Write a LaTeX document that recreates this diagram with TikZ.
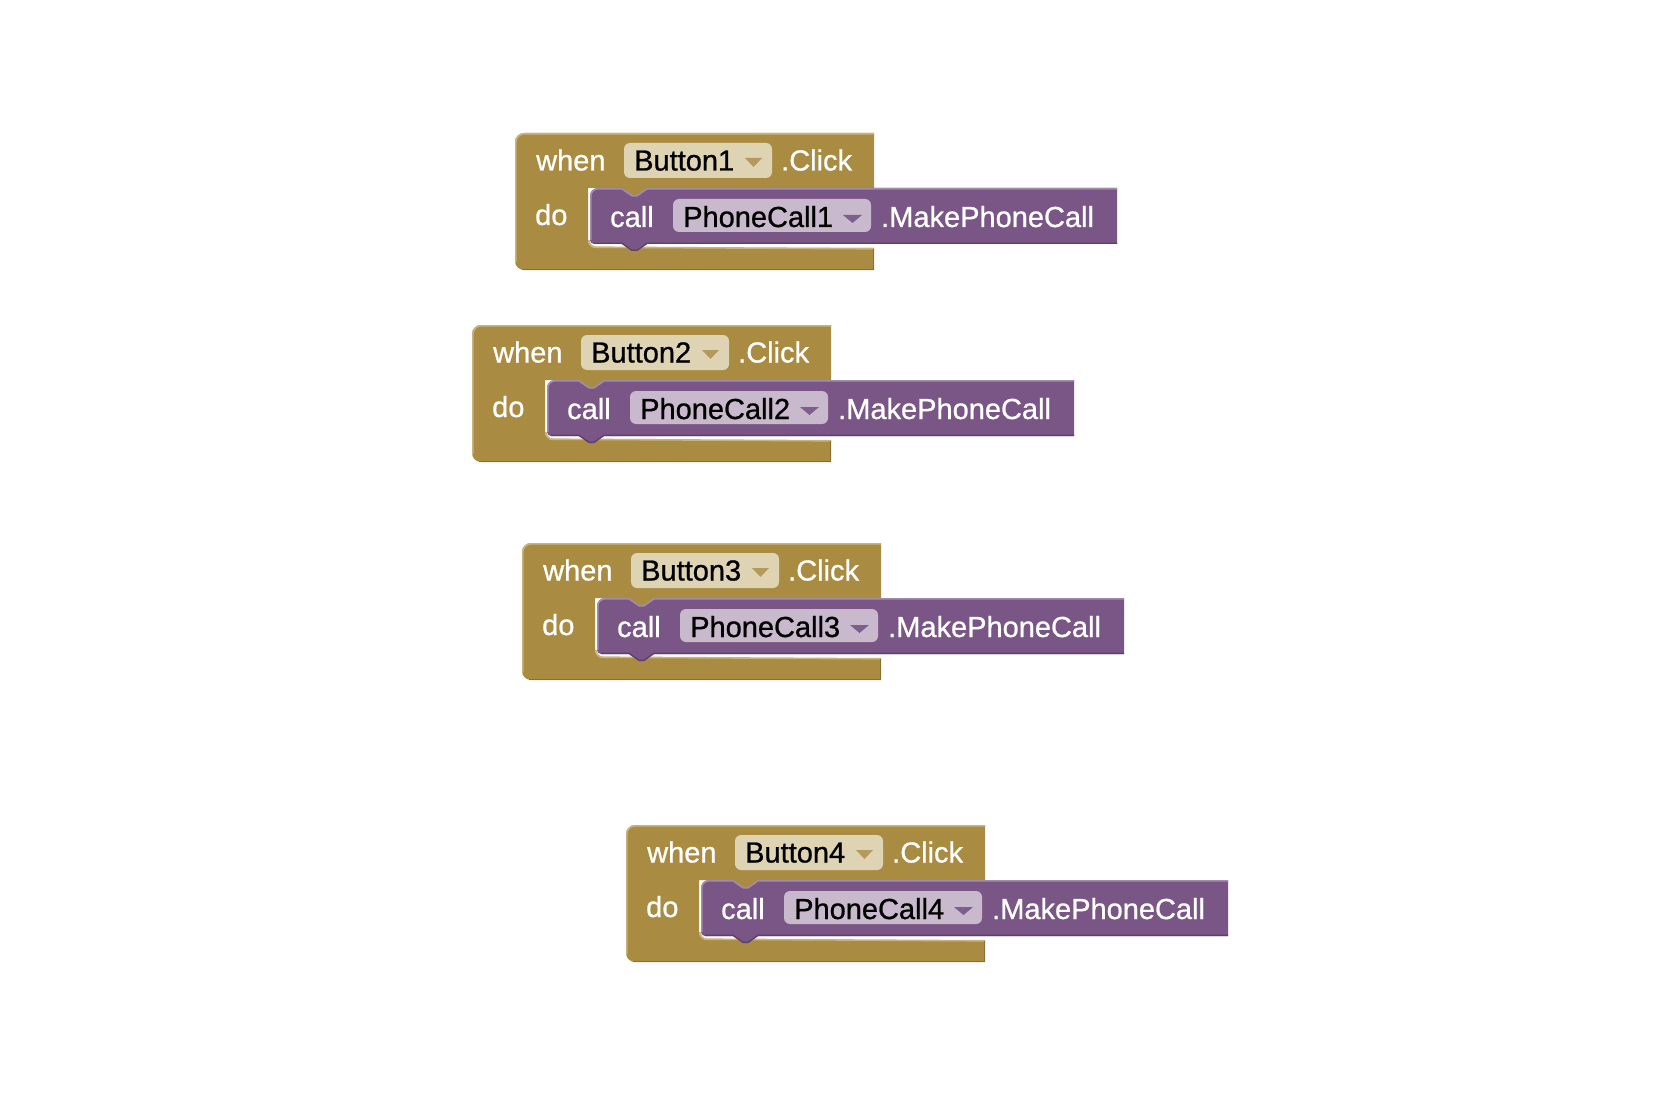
\documentclass[tikz,border=0pt]{standalone}
\usepackage{fontspec}
\setmainfont{Liberation Sans}[FakeBold=0.8]
\definecolor{gold}{HTML}{AA8B42}
\definecolor{goldhi}{HTML}{C8B37E}
\definecolor{golddark}{HTML}{8A6F2E}
\definecolor{golddd}{HTML}{DED3B3}
\definecolor{goldarrow}{HTML}{B39A5C}
\definecolor{purp}{HTML}{7A5686}
\definecolor{purphi}{HTML}{A28CAC}
\definecolor{purpdark}{HTML}{5E4169}
\definecolor{purpdd}{HTML}{C9B9CD}
\definecolor{purparrow}{HTML}{7E5E8C}
\tikzset{
  lbl/.style={anchor=base west, inner sep=0pt, font=\fontsize{29}{31}\selectfont, text=white},
  ddtext/.style={lbl, text=black},
  hiline/.style={line width=1.6pt},
}
\newcommand\aiblock[3]{%
\begin{scope}[shift={(#1,#2)}]
  % gold C-shaped event block
  \fill[gold] (0,9) arc[start angle=180,end angle=270,radius=9] -- (359,0) -- (359,55)
     -- (132,55) -- (122,62) -- (117,62) -- (107,55) -- (73,55) -- (73,107)
     arc[start angle=180,end angle=90,radius=8] -- (359,115) -- (359,137) -- (9,137)
     arc[start angle=90,end angle=180,radius=9] -- cycle;
  \draw[goldhi,hiline] (0.8,129) -- (0.8,9) arc[start angle=180,end angle=270,radius=8.2] -- (359,0.8);
  \draw[goldhi,hiline] (73.8,107) arc[start angle=180,end angle=90,radius=7.2] -- (359,115.8);
  \draw[golddark,line width=1.4pt] (7,136.3) -- (359,136.3);
  \draw[golddark,line width=1pt] (358.5,116) -- (358.5,136);
  % dropdown Button
  \fill[golddd, rounded corners=6] (109,10) rectangle (257,45);
  \fill[goldarrow] (230,25) -- (247,25) -- (238.5,34) -- cycle;
  \node[lbl] (when#3) at (21,37.5) {when};
  \node[ddtext] (btn#3) at (119,37.5) {Button#3};
  \node[lbl] (click#3) at (266,37.5) {.Click};
  \node[lbl] (do#3) at (20,92) {do};
  % purple method call block
  \fill[purp] (75,63) arc[start angle=180,end angle=270,radius=8] -- (107,55) -- (117,62)
     -- (122,62) -- (132,55) -- (602,55) -- (602,111) -- (132,111) -- (122,118)
     -- (117,118) -- (107,111) -- (79,111) arc[start angle=90,end angle=180,radius=4] -- cycle;
  \draw[purphi,hiline] (75.8,107) -- (75.8,63) arc[start angle=180,end angle=270,radius=7.2]
     -- (107,55.8) -- (117,62.8) -- (122,62.8) -- (132,55.8) -- (602,55.8);
  \draw[purpdark,line width=1.4pt] (602,110.3) -- (132,110.3) -- (122,117.3) -- (117,117.3) -- (107,110.3) -- (79,110.3);
  \fill[purpdd, rounded corners=6] (158,66) rectangle (356,99);
  \fill[purparrow] (328,82) -- (347,82) -- (337.5,90) -- cycle;
  \node[lbl] (call#3) at (95,94) {call};
  \node[ddtext] (pc#3) at (168,94) {PhoneCall#3};
  \node[lbl] (mk#3) at (366,94) {.MakePhoneCall};
\end{scope}}
\begin{document}
\begin{tikzpicture}[x=1pt,y=-1pt]
\useasboundingbox[fill=white] (0,0) rectangle (1668,1110);
\aiblock{515}{133}{1}
\aiblock{472}{325}{2}
\aiblock{522}{543}{3}
\aiblock{626}{825}{4}
\end{tikzpicture}
\end{document}
